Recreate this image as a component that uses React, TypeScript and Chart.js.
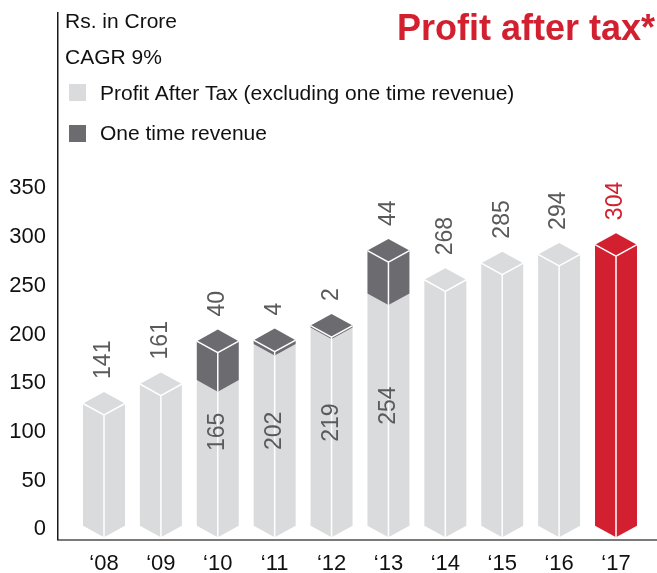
import React, { useEffect, useRef } from 'react';
import { Chart, registerables } from 'chart.js';

Chart.register(...registerables);

const years = ['‘08', '‘09', '‘10', '‘11', '‘12', '‘13', '‘14', '‘15', '‘16', '‘17'];
const profitExOneTime = [141, 161, 165, 202, 219, 254, 268, 285, 294, 304];
const oneTimeRevenue = [0, 0, 40, 4, 2, 44, 0, 0, 0, 0];
const yTicks = [0, 50, 100, 150, 200, 250, 300, 350];
const highlightYear = '‘17';
const titleText = 'Profit after tax*';
const unitNote = 'Rs. in Crore';
const cagrNote = 'CAGR 9%';
const legendLabels = ['Profit After Tax (excluding one time revenue)', 'One time revenue'];

const LIGHT = '#dadbdc';
const DARK = '#6b6b70';
const RED = '#d32031';
const LABEL = '#5a5a5c';
const FONT = '"Liberation Sans", Arial, Helvetica, sans-serif';

function drawPrism(
  ctx: CanvasRenderingContext2D,
  cx: number,
  hw: number,
  d: number,
  apex: number,
  sideBottom: number,
  color: string,
  topEdges: boolean
) {
  ctx.beginPath();
  ctx.moveTo(cx - hw, apex + d);
  ctx.lineTo(cx, apex);
  ctx.lineTo(cx + hw, apex + d);
  ctx.lineTo(cx + hw, sideBottom);
  ctx.lineTo(cx, sideBottom + d);
  ctx.lineTo(cx - hw, sideBottom);
  ctx.closePath();
  ctx.fillStyle = color;
  ctx.fill();
  ctx.strokeStyle = '#ffffff';
  ctx.lineWidth = 1.5;
  ctx.beginPath();
  if (topEdges) {
    ctx.moveTo(cx - hw, apex + d);
    ctx.lineTo(cx, apex + 2 * d);
    ctx.lineTo(cx + hw, apex + d);
  }
  ctx.moveTo(cx, apex + 2 * d);
  ctx.lineTo(cx, sideBottom + d);
  ctx.stroke();
}

function drawVertical(
  ctx: CanvasRenderingContext2D,
  text: string,
  x: number,
  y: number,
  color: string,
  align: CanvasTextAlign
) {
  ctx.save();
  ctx.translate(x, y);
  ctx.rotate(-Math.PI / 2);
  ctx.textAlign = align;
  ctx.textBaseline = 'middle';
  ctx.fillStyle = color;
  ctx.fillText(text, 0, 0);
  ctx.restore();
}

const prismPlugin = {
  id: 'prismBars',
  afterDatasetsDraw(chart: any) {
    const { ctx, chartArea, scales } = chart;
    const x = scales.x;
    const y = scales.y;
    const step = x.getPixelForValue(1) - x.getPixelForValue(0);
    const hw = step * 0.369;
    const d = hw * 0.55;
    const bottomFront = chartArea.bottom;
    const bottomSide = bottomFront - d * 1.2;
    ctx.save();
    profitExOneTime.forEach((v, i) => {
      const cx = x.getPixelForValue(i);
      const hi = years[i] === highlightYear;
      const apex = y.getPixelForValue(v);
      const extra = oneTimeRevenue[i];
      drawPrism(ctx, cx, hw, d, apex, bottomSide, hi ? RED : LIGHT, extra === 0);
      if (extra > 0) {
        const apex2 = y.getPixelForValue(v + extra);
        drawPrism(ctx, cx, hw, d, apex2, apex + d, DARK, true);
      }
    });
    ctx.font = `23px ${FONT}`;
    profitExOneTime.forEach((v, i) => {
      const cx = x.getPixelForValue(i);
      const hi = years[i] === highlightYear;
      const extra = oneTimeRevenue[i];
      if (extra > 0) {
        const apex2 = y.getPixelForValue(v + extra);
        drawVertical(ctx, String(extra), cx, apex2 - 13, LABEL, 'left');
        drawVertical(ctx, String(v), cx, y.getPixelForValue(Math.max(v / 2, 100)), LABEL, 'center');
      } else {
        const apex = y.getPixelForValue(v);
        drawVertical(ctx, String(v), cx, apex - 13, hi ? RED : LABEL, 'left');
      }
    });
    ctx.restore();
  },
  afterDraw(chart: any) {
    const { ctx, chartArea, width } = chart;
    const L = chartArea.left;
    ctx.save();
    ctx.textAlign = 'left';
    ctx.textBaseline = 'middle';
    ctx.fillStyle = '#111111';
    ctx.font = `21px ${FONT}`;
    ctx.fillText(unitNote, L + 7, 22.5);
    ctx.fillText(cagrNote, L + 7, 58.7);
    ctx.fillStyle = LIGHT;
    ctx.fillRect(L + 11, 84, 17, 17);
    ctx.fillStyle = DARK;
    ctx.fillRect(L + 11, 125, 17, 17);
    ctx.fillStyle = '#111111';
    ctx.fillText(legendLabels[0], L + 42, 94.3);
    ctx.fillText(legendLabels[1], L + 42, 134);
    ctx.font = `bold 36px ${FONT}`;
    ctx.fillStyle = RED;
    ctx.textAlign = 'right';
    ctx.textBaseline = 'alphabetic';
    ctx.fillText(titleText, width - 2, 39.5);
    ctx.restore();
  },
};

export default function App() {
  const ref = useRef<HTMLCanvasElement | null>(null);
  useEffect(() => {
    if (!ref.current) return;
    Chart.defaults.font.family = FONT;
    const chart = new Chart(ref.current, {
      type: 'bar',
      data: {
        datasets: [
          {
            label: legendLabels[0],
            data: profitExOneTime.map((v, i) => ({ x: i, y: v })),
            backgroundColor: 'rgba(0,0,0,0)',
          },
          {
            label: legendLabels[1],
            data: oneTimeRevenue.map((v, i) => ({ x: i, y: v })),
            backgroundColor: 'rgba(0,0,0,0)',
          },
        ],
      },
      options: {
        responsive: false,
        animation: false,
        layout: { padding: { top: 13, left: 8, right: 0, bottom: 0 } },
        plugins: {
          legend: { display: false },
          tooltip: { enabled: false },
          title: { display: false },
        },
        scales: {
          x: {
            type: 'linear',
            stacked: true,
            min: -0.8086,
            max: years.length - 1 + 0.7207,
            offset: false,
            grid: { display: false, drawTicks: false },
            border: { display: true, color: '#7a7a7a', width: 2 },
            ticks: {
              color: '#111111',
              font: { size: 22 },
              padding: 11,
              includeBounds: false,
              callback: (value: any) => years[Number(value)] ?? '',
            },
            afterBuildTicks: (s: any) => {
              s.ticks = years.map((_, i) => ({ value: i }));
            },
            afterFit: (s: any) => {
              s.height = 33.5;
              s.paddingLeft = 0;
              s.paddingRight = 0;
            },
          },
          y: {
            type: 'linear',
            stacked: true,
            min: -10.5,
            max: 530,
            grid: { display: false, drawTicks: false },
            border: { display: true, color: '#1a1a1a', width: 1.5 },
            ticks: {
              color: '#111111',
              font: { size: 22 },
              padding: 12,
              includeBounds: false,
            },
            afterBuildTicks: (s: any) => {
              s.ticks = yTicks.map((v) => ({ value: v }));
            },
            afterFit: (s: any) => {
              s.width = 50;
              s.paddingTop = 0;
              s.paddingBottom = 0;
            },
          },
        },
      } as any,
      plugins: [prismPlugin],
    });
    return () => chart.destroy();
  }, []);
  return (
    <canvas
      ref={ref}
      width={657}
      height={573}
      style={{ position: 'absolute', left: 0, top: 0, display: 'block' }}
    />
  );
}
